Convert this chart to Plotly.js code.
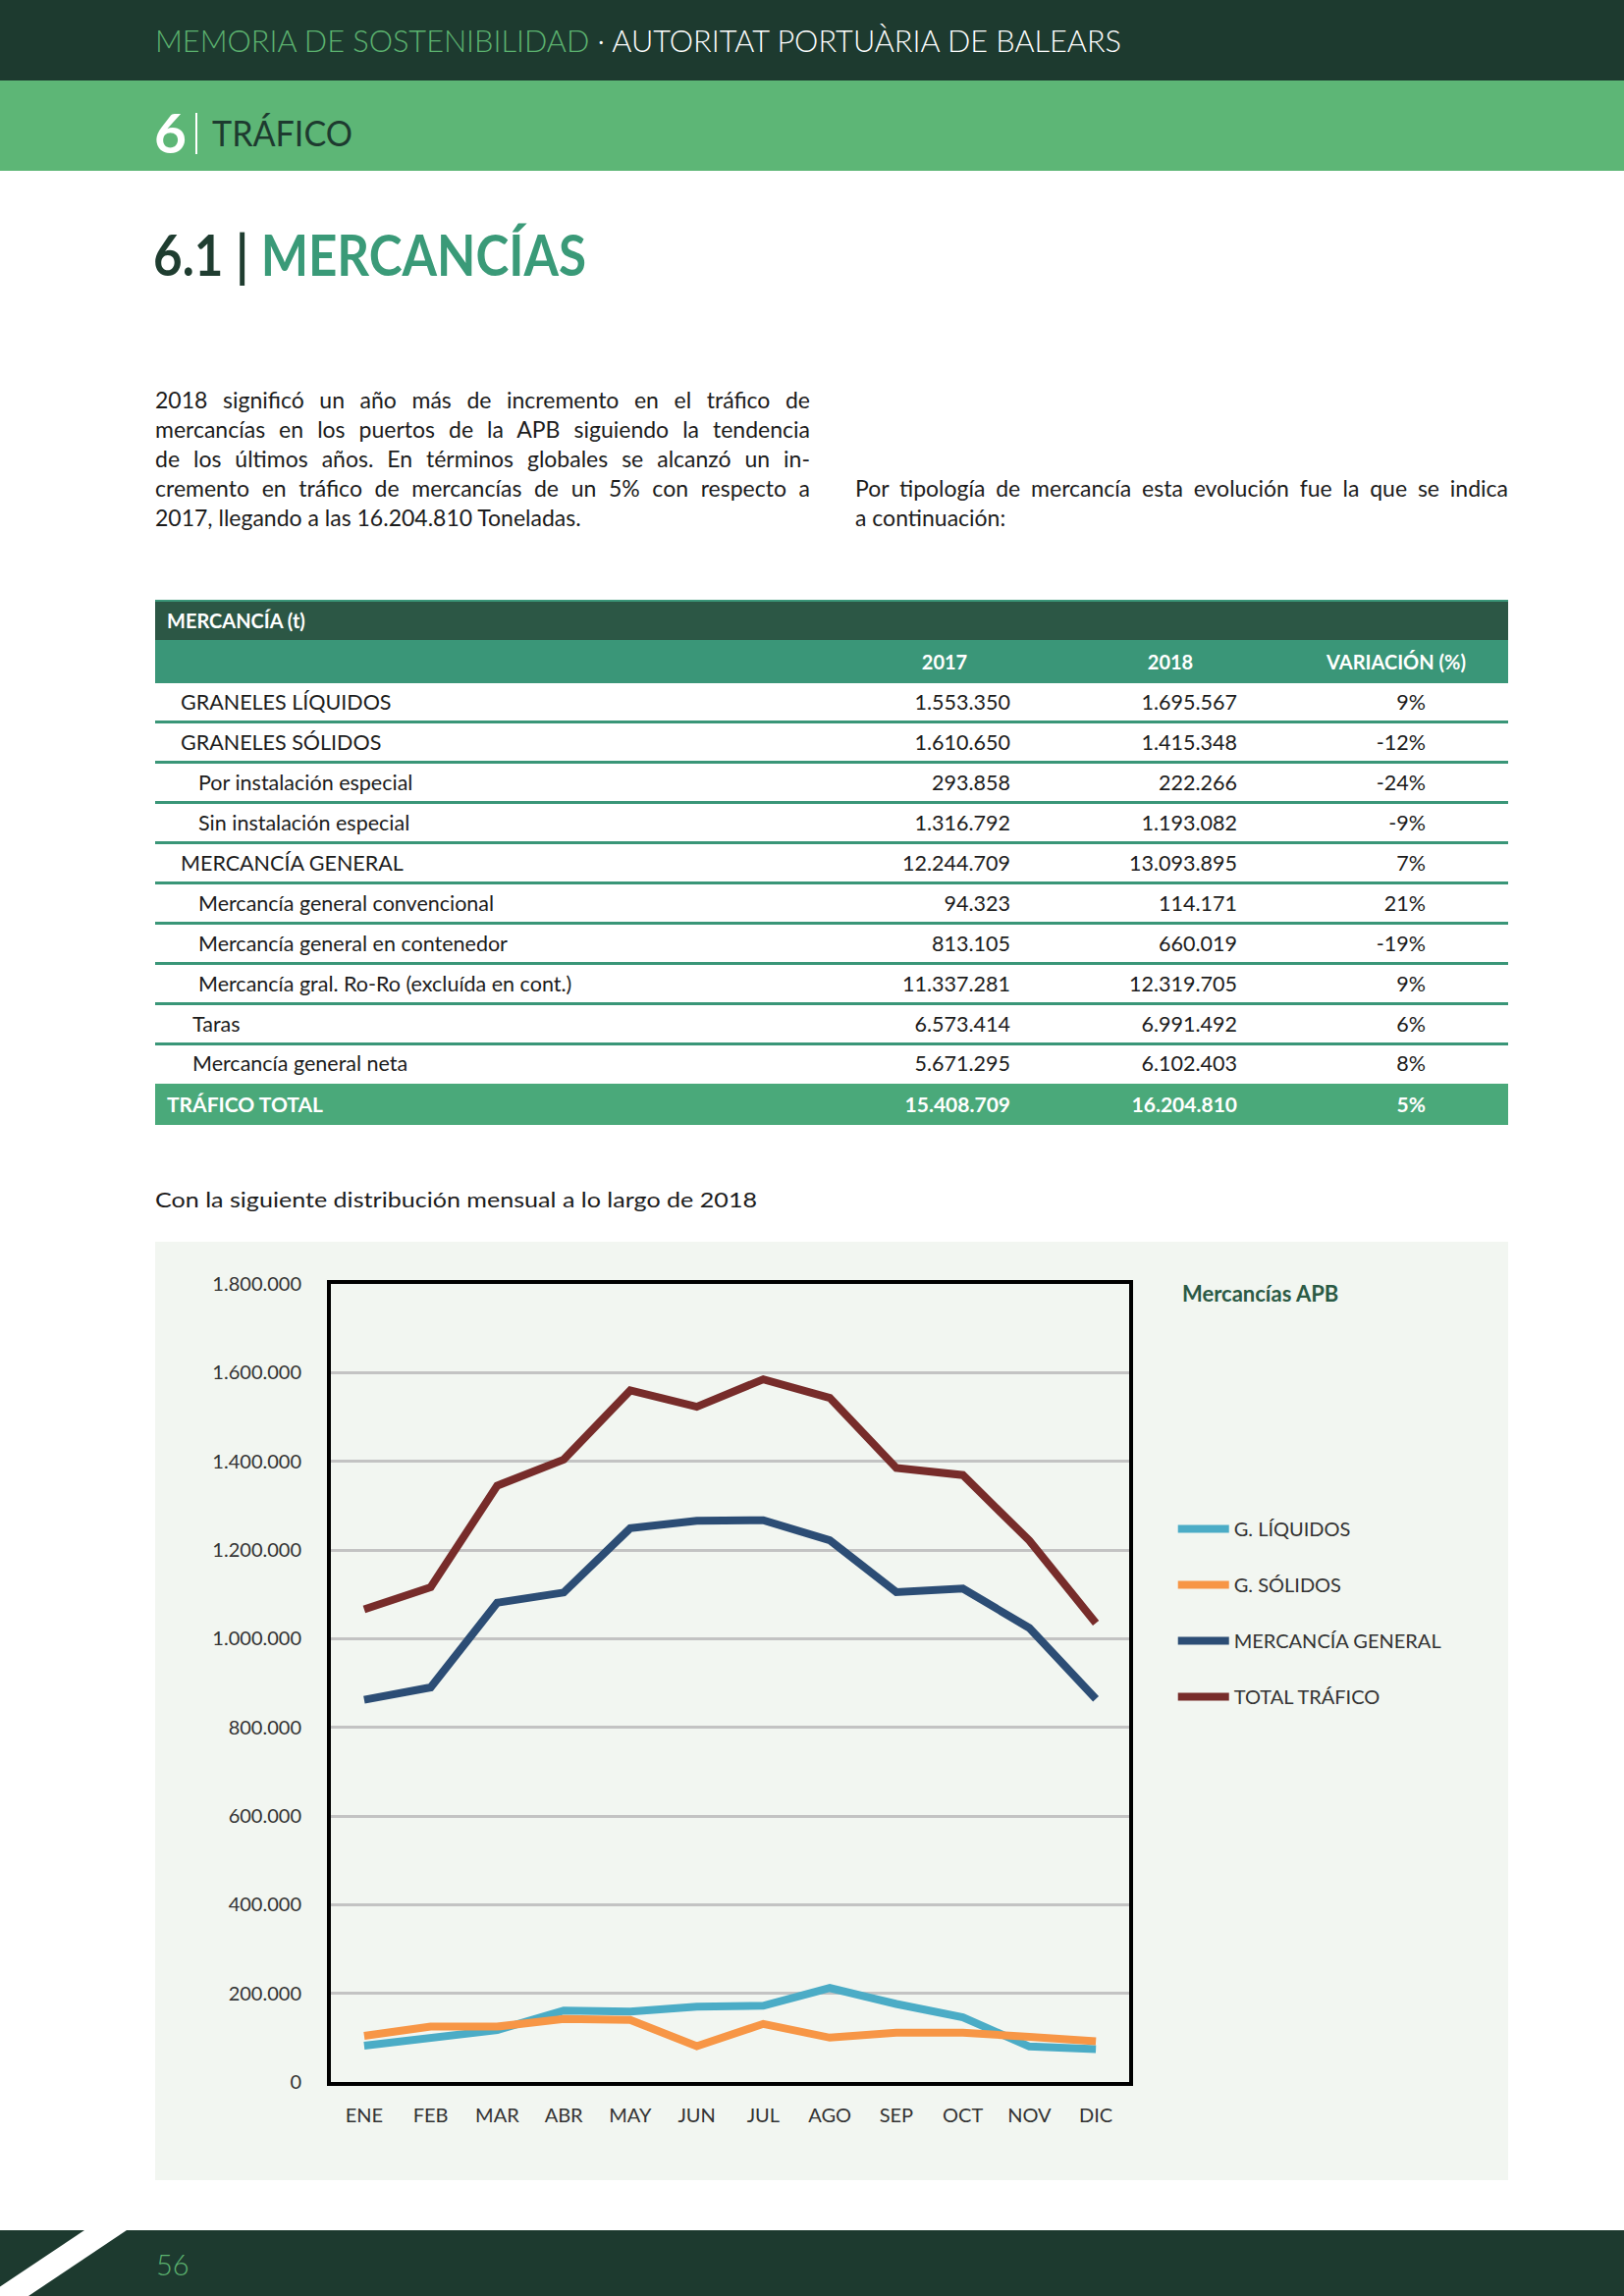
<!DOCTYPE html>
<html><head><meta charset="utf-8">
<script src="https://cdn.plot.ly/plotly-3.0.1.min.js"></script>
<style>
html,body{margin:0;padding:0}
body{width:1654px;height:2339px;position:relative;background:#fff;font-family:Lato,"Open Sans",sans-serif;overflow:hidden;color:#1c1c1c}
.abs{position:absolute;white-space:nowrap}
.fit{display:inline-block;transform-origin:left center}
.band{position:absolute;left:0;width:1654px}
.pline{position:absolute;left:158px;width:667px;font-size:23px;line-height:30px;height:30px;white-space:nowrap;text-align:justify;text-align-last:justify}
.pline.last{text-align-last:left}
.row{position:absolute;left:158px;width:1378px}
.cell{position:absolute;top:0;white-space:nowrap}
</style></head>
<body>
<div class="band" style="top:0;height:82px;background:#1d3a2f"></div>
<div class="abs" style="left:158px;top:21px;font-size:32px;line-height:40px;font-weight:300"><span class="fit" data-w="984"><span style="color:#5cb36f">MEMORIA DE SOSTENIBILIDAD</span><span style="color:#fff"> · AUTORITAT PORTUÀRIA DE BALEARS</span></span></div>
<div class="band" style="top:82px;height:92px;background:#5db676"></div>
<div class="abs" style="left:157px;top:103px;font-size:56px;line-height:64px;font-weight:700;color:#fff"><span class="fit" data-w="33">6</span></div>
<div class="abs" style="left:199px;top:115px;width:2px;height:42px;background:#fff"></div>
<div class="abs" style="left:216px;top:113px;font-size:36px;line-height:44px;font-weight:400;color:#1d3a2f"><span class="fit" data-w="143">TRÁFICO</span></div>

<div class="abs" style="left:156px;top:224px;font-size:58px;line-height:70px;font-weight:700"><span class="fit" data-w="441"><span style="color:#1f3d30">6.1 | </span><span style="color:#3a9a78">MERCANCÍAS</span></span></div>

<div class="pline" style="top:392px">2018 significó un año más de incremento en el tráfico de</div>
<div class="pline" style="top:422px">mercancías en los puertos de la APB siguiendo la tendencia</div>
<div class="pline" style="top:452px">de los últimos años. En términos globales se alcanzó un in-</div>
<div class="pline" style="top:482px">cremento en tráfico de mercancías de un 5% con respecto a</div>
<div class="pline last" style="top:512px">2017, llegando a las 16.204.810 Toneladas.</div>
<div class="pline" style="top:482px;left:871px;width:665px">Por tipología de mercancía esta evolución fue la que se indica</div>
<div class="pline last" style="top:512px;left:871px;width:665px">a continuación:</div>

<div id="table"></div>

<div class="abs" style="left:158px;top:1207px;font-size:22px;line-height:30px"><span class="fit" data-w="613">Con la siguiente distribución mensual a lo largo de 2018</span></div>

<div id="chart" style="position:absolute;left:158px;top:1265px;width:1378px;height:956px"></div>

<div class="band" style="top:2272px;height:67px;background:#1d3a2f"></div>
<svg style="position:absolute;left:0;top:2272px" width="200" height="67"><polygon points="86,0 129,0 29,67 -14,67" fill="#fff"/></svg>
<div class="abs" style="left:159px;top:2289px;font-size:29px;line-height:36px;color:#5cb36f;font-weight:300">56</div>

<script>
// ---- Table data ----
const tableLabels = ['GRANELES LÍQUIDOS','GRANELES SÓLIDOS','Por instalación especial','Sin instalación especial','MERCANCÍA GENERAL','Mercancía general convencional','Mercancía general en contenedor','Mercancía gral. Ro-Ro (excluída en cont.)','Taras','Mercancía general neta'];
const tableLevels = [0,0,1,1,0,1,1,1,2,2];
const values2017 = ['1.553.350','1.610.650','293.858','1.316.792','12.244.709','94.323','813.105','11.337.281','6.573.414','5.671.295'];
const values2018 = ['1.695.567','1.415.348','222.266','1.193.082','13.093.895','114.171','660.019','12.319.705','6.991.492','6.102.403'];
const variation = ['9%','-12%','-24%','-9%','7%','21%','-19%','9%','6%','8%'];
const totalRow = ['TRÁFICO TOTAL','15.408.709','16.204.810','5%'];
const tableHeader = ['MERCANCÍA (t)','2017','2018','VARIACIÓN (%)'];

// ---- Chart data ----
const months = ['ENE','FEB','MAR','ABR','MAY','JUN','JUL','AGO','SEP','OCT','NOV','DIC'];
const seriesNames = ['G. LÍQUIDOS','G. SÓLIDOS','MERCANCÍA GENERAL','TOTAL TRÁFICO'];
const liquidos = [82000,98000,117000,161000,159000,170000,172000,212000,176000,146000,80000,74000];
const solidos = [104000,125000,125000,142000,140000,81000,131000,100000,111000,111000,102000,92000];
const mercanciaGeneral = [862000,890000,1081000,1104000,1249000,1266000,1267000,1222000,1105000,1113000,1024000,864000];
const totalTrafico = [1066000,1116000,1345000,1404000,1560000,1523000,1585000,1543000,1385000,1369000,1221000,1035000];

// ---- Build table ----
(function(){
  const t = document.getElementById('table');
  const indent = [26,44,38];
  const rEdges = [1378-871, 1378-1102, 1378-1294];
  let html = '';
  html += '<div class="row" style="top:611px;height:41px;background:#2c5745;border-top:2px solid #3a9678;box-sizing:border-box;color:#fff;font-weight:700;font-size:20px;line-height:38px"><span class="cell" style="left:12px">'+tableHeader[0]+'</span></div>';
  html += '<div class="row" style="top:652px;height:44px;background:#3a9678;color:#fff;font-weight:700;font-size:20px;line-height:44px">'
    + '<span class="cell" style="left:804px;transform:translateX(-50%)">'+tableHeader[1]+'</span>'
    + '<span class="cell" style="left:1034px;transform:translateX(-50%)">'+tableHeader[2]+'</span>'
    + '<span class="cell" style="left:1264px;transform:translateX(-50%)">'+tableHeader[3]+'</span></div>';
  for (let i=0;i<tableLabels.length;i++){
    const top = 696 + i*41;
    const h = (i===tableLabels.length-1) ? 39 : 41;
    const border = (i===tableLabels.length-1) ? '' : 'border-bottom:3px solid #3a9678;';
    html += '<div class="row" style="top:'+top+'px;height:'+h+'px;box-sizing:border-box;'+border+'font-size:21.5px;line-height:'+(h-2)+'px;color:#1c1c1c">'
      + '<span class="cell" style="left:'+indent[tableLevels[i]]+'px">'+tableLabels[i]+'</span>'
      + '<span class="cell" style="right:'+rEdges[0]+'px">'+values2017[i]+'</span>'
      + '<span class="cell" style="right:'+rEdges[1]+'px">'+values2018[i]+'</span>'
      + '<span class="cell" style="right:'+rEdges[2]+'px">'+variation[i]+'</span></div>';
  }
  html += '<div class="row" style="top:1104px;height:42px;background:#4aa97a;color:#fff;font-weight:700;font-size:21px;line-height:42px">'
    + '<span class="cell" style="left:12px">'+totalRow[0]+'</span>'
    + '<span class="cell" style="right:'+rEdges[0]+'px">'+totalRow[1]+'</span>'
    + '<span class="cell" style="right:'+rEdges[1]+'px">'+totalRow[2]+'</span>'
    + '<span class="cell" style="right:'+rEdges[2]+'px">'+totalRow[3]+'</span></div>';
  t.innerHTML = html;
})();

// ---- Chart ----
const colors = ['#4bacc6','#f79646','#2c4d75','#772c2a'];
const seriesData = [liquidos, solidos, mercanciaGeneral, totalTrafico];
const traces = seriesData.map((d,i)=>({
  type:'scatter', mode:'lines', x: months, y: d, name: seriesNames[i],
  legendgroup: 'g'+i,
  line:{color:colors[i], width:8}
}));
const layout = {
  width:1378, height:956,
  margin:{l:179, r:386, t:43, b:100},
  paper_bgcolor:'#f2f6f1', plot_bgcolor:'#f2f6f1',
  separators:',.',
  font:{family:'Lato, sans-serif', size:19, color:'#333'},
  xaxis:{type:'category', range:[-0.5,11.5], showline:true, mirror:true, linecolor:'#000', linewidth:4,
    showgrid:false, zeroline:false, ticks:'', ticklabelstandoff:13, tickfont:{size:20,color:'#333'}},
  yaxis:{range:[0,1800000], tick0:0, dtick:200000, tickformat:',d', showline:true, mirror:true,
    linecolor:'#000', linewidth:4, gridcolor:'#c3c3c3', gridwidth:3, zeroline:false, ticks:'',
    ticklabelstandoff:22, tickfont:{size:20,color:'#333'}},
  showlegend:true,
  legend:{x:1.055, xanchor:'left', y:0.717, yanchor:'top', tracegroupgap:28, traceorder:'grouped',
    itemwidth:52, font:{size:20,color:'#333'}, bgcolor:'rgba(0,0,0,0)'},
  annotations:[{text:'<b>Mercancías APB</b>', xref:'paper', yref:'paper', x:1.064, y:0.988,
    xanchor:'left', yanchor:'middle', showarrow:false, font:{size:22,color:'#2b5a45'}}]
};
Plotly.newPlot('chart', traces, layout, {displayModeBar:false, staticPlot:true});

// ---- Fit headings ----
function fitAll(){
  document.querySelectorAll('.fit').forEach(el=>{
    el.style.transform='none';
    const w = el.getBoundingClientRect().width;
    const target = parseFloat(el.dataset.w);
    if (w>0) el.style.transform='scaleX('+(target/w)+')';
  });
}
fitAll();
if (document.fonts && document.fonts.ready) document.fonts.ready.then(fitAll);
</script>
</body></html>
